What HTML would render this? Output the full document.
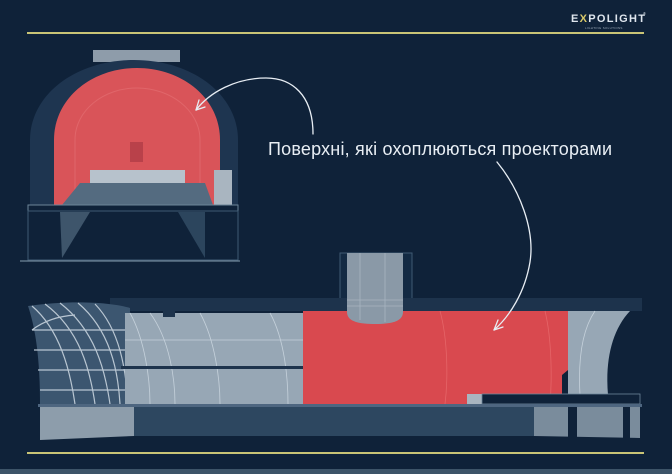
<!DOCTYPE html>
<html><head><meta charset="utf-8"><style>
html,body{margin:0;padding:0;background:#0f2239;}
svg{display:block}
</style></head><body>
<svg width="672" height="474" viewBox="0 0 672 474" xmlns="http://www.w3.org/2000/svg">
<rect width="672" height="474" fill="#0f2239"/>
<rect y="469" width="672" height="5" fill="#3d5468"/>
<!-- header -->
<text x="571" y="22" font-family="Liberation Sans, sans-serif" font-weight="bold" font-size="11" letter-spacing="1.3" fill="#dfe6ee">E<tspan fill="#d8c96a">X</tspan>POLIGHT</text>
<text x="643" y="15" font-family="Liberation Sans, sans-serif" font-size="4" fill="#dfe6ee">®</text>
<text x="585" y="29" font-family="Liberation Sans, sans-serif" font-size="3" fill="#9aa8b6" letter-spacing="0.3">LIGHTING SOLUTIONS</text>
<rect x="27" y="32" width="617" height="2" fill="#c9c476"/>
<rect x="27" y="452" width="617" height="2" fill="#c9c476"/>

<!-- small tunnel -->
<rect x="93" y="50" width="87" height="12" fill="#8e9caa"/>
<path d="M30,205 L30,140 C30,95 75,60 134,60 C193,60 238,95 238,140 L238,205 Z" fill="#1e3550"/>
<path d="M54,205 L54,140 C54,98 92,68 137,68 C182,68 220,98 220,140 L220,205 Z" fill="#d95459"/>
<path d="M75,200 L75,140 C75,110 104,88 137,88 C170,88 200,110 200,140 L200,200" fill="none" stroke="#e0666a" stroke-width="1"/>
<rect x="130" y="142" width="13" height="20" fill="#b9414a"/>
<rect x="90" y="170" width="95" height="13" fill="#b7c2cc"/>
<polygon points="80,183 205,183 213,205 62,205" fill="#546b80"/>
<rect x="214" y="170" width="18" height="35" fill="#a9b5c0"/>
<rect x="28" y="205" width="210" height="6" fill="none" stroke="#6d8599" stroke-width="1"/>
<rect x="28" y="211" width="210" height="49" fill="none" stroke="#3f5a73" stroke-width="1"/>
<polygon points="60,212 90,212 62,258" fill="#3e556b"/>
<polygon points="178,212 205,212 205,258" fill="#2c455d"/>
<line x1="20" y1="261" x2="240" y2="261" stroke="#6d8599" stroke-width="1.2"/>

<!-- big tunnel -->
<rect x="340" y="253" width="72" height="50" fill="#132a43" stroke="#3f5a73"/>
<rect x="110" y="298" width="532" height="13" fill="#1d334c"/>
<path d="M28,306 C70,300 110,302 130,308 L130,404 L40,404 C40,360 36,330 28,306Z" fill="#3c5670"/>
<g stroke="#b9c6d2" stroke-width="1.2" fill="none">
<path d="M32,306 C60,330 70,370 75,404"/><path d="M45,304 C80,330 90,370 95,404"/><path d="M60,303 C95,330 105,370 110,404"/><path d="M78,303 C110,330 118,370 120,404"/><path d="M95,304 C120,330 126,370 128,404"/>
<path d="M32,330 L130,330 M34,350 L130,350 M38,370 L130,370 M40,390 L130,390"/>
<path d="M32,330 C45,320 60,316 75,315"/>
</g>
<rect x="125" y="313" width="178" height="91" fill="#97a7b5"/>
<rect x="163" y="311" width="12" height="6" fill="#1d334c"/>
<g stroke="#c5d1db" stroke-width="0.8" fill="none">
<path d="M130,313 C145,340 150,380 150,404"/><path d="M150,313 C170,340 175,380 175,404"/><path d="M200,313 C215,340 220,380 220,404"/>
<path d="M270,313 C285,340 288,380 288,404"/><line x1="125" y1="340" x2="303" y2="340"/>
</g>
<rect x="121" y="366" width="182" height="3" fill="#1d334c"/>
<path d="M303,311 L568,311 L568,370 L562,375 L562,404 L303,404 Z" fill="#d9494f"/>
<g stroke="#e56568" stroke-width="0.8" fill="none"><path d="M440,311 C448,340 448,380 445,404"/><path d="M545,311 C552,340 552,380 550,404"/></g>
<path d="M347,253 L403,253 L403,312 C403,322 390,324 375,324 C360,324 347,322 347,312 Z" fill="#8a99a7"/>
<g stroke="#a8b5c1" stroke-width="0.8"><line x1="360" y1="253" x2="360" y2="320"/><line x1="385" y1="253" x2="385" y2="322"/><line x1="347" y1="300" x2="403" y2="300"/><line x1="347" y1="306" x2="403" y2="306"/></g>
<path d="M568,311 L630,311 C612,330 605,360 608,395 L568,395 Z" fill="#97a7b5"/>
<path d="M595,311 C582,330 578,360 580,395" fill="none" stroke="#c5d1db" stroke-width="0.8"/>
<rect x="467" y="394" width="15" height="10" fill="#a9b5c0"/>
<rect x="482" y="394" width="158" height="10" fill="#0f2239" stroke="#6d8599" stroke-width="0.8"/>
<rect x="38" y="404" width="604" height="3" fill="#4e6680"/>
<path d="M40,407 L134,407 L134,436 L40,440 Z" fill="#8d9dab"/>
<rect x="134" y="407" width="400" height="29" fill="#2d4760"/>
<path d="M534,407 L640,407 L640,438 L534,436 Z" fill="#7a8c9c"/>
<rect x="568" y="407" width="9" height="31" fill="#0f2239"/>
<rect x="623" y="407" width="7" height="31" fill="#0f2239"/>

<!-- arrows -->
<g stroke="#e8eef4" stroke-width="1.3" fill="none" stroke-linecap="round">
<path d="M313,134 C313,95 292,78 266,78 C236,78 210,92 196,110"/>
<path d="M196,110 L199,100 M196,110 L205,107"/>
<path d="M497,162 C520,190 535,230 530,262 C525,292 510,316 494,330"/>
<path d="M494,330 L498,320 M494,330 L503,327"/>
</g>
<text x="268" y="155" font-family="Liberation Sans, sans-serif" font-size="18" fill="#e8eef4" textLength="344" lengthAdjust="spacing">Поверхні, які охоплюються проекторами</text>
</svg>
</body></html>
